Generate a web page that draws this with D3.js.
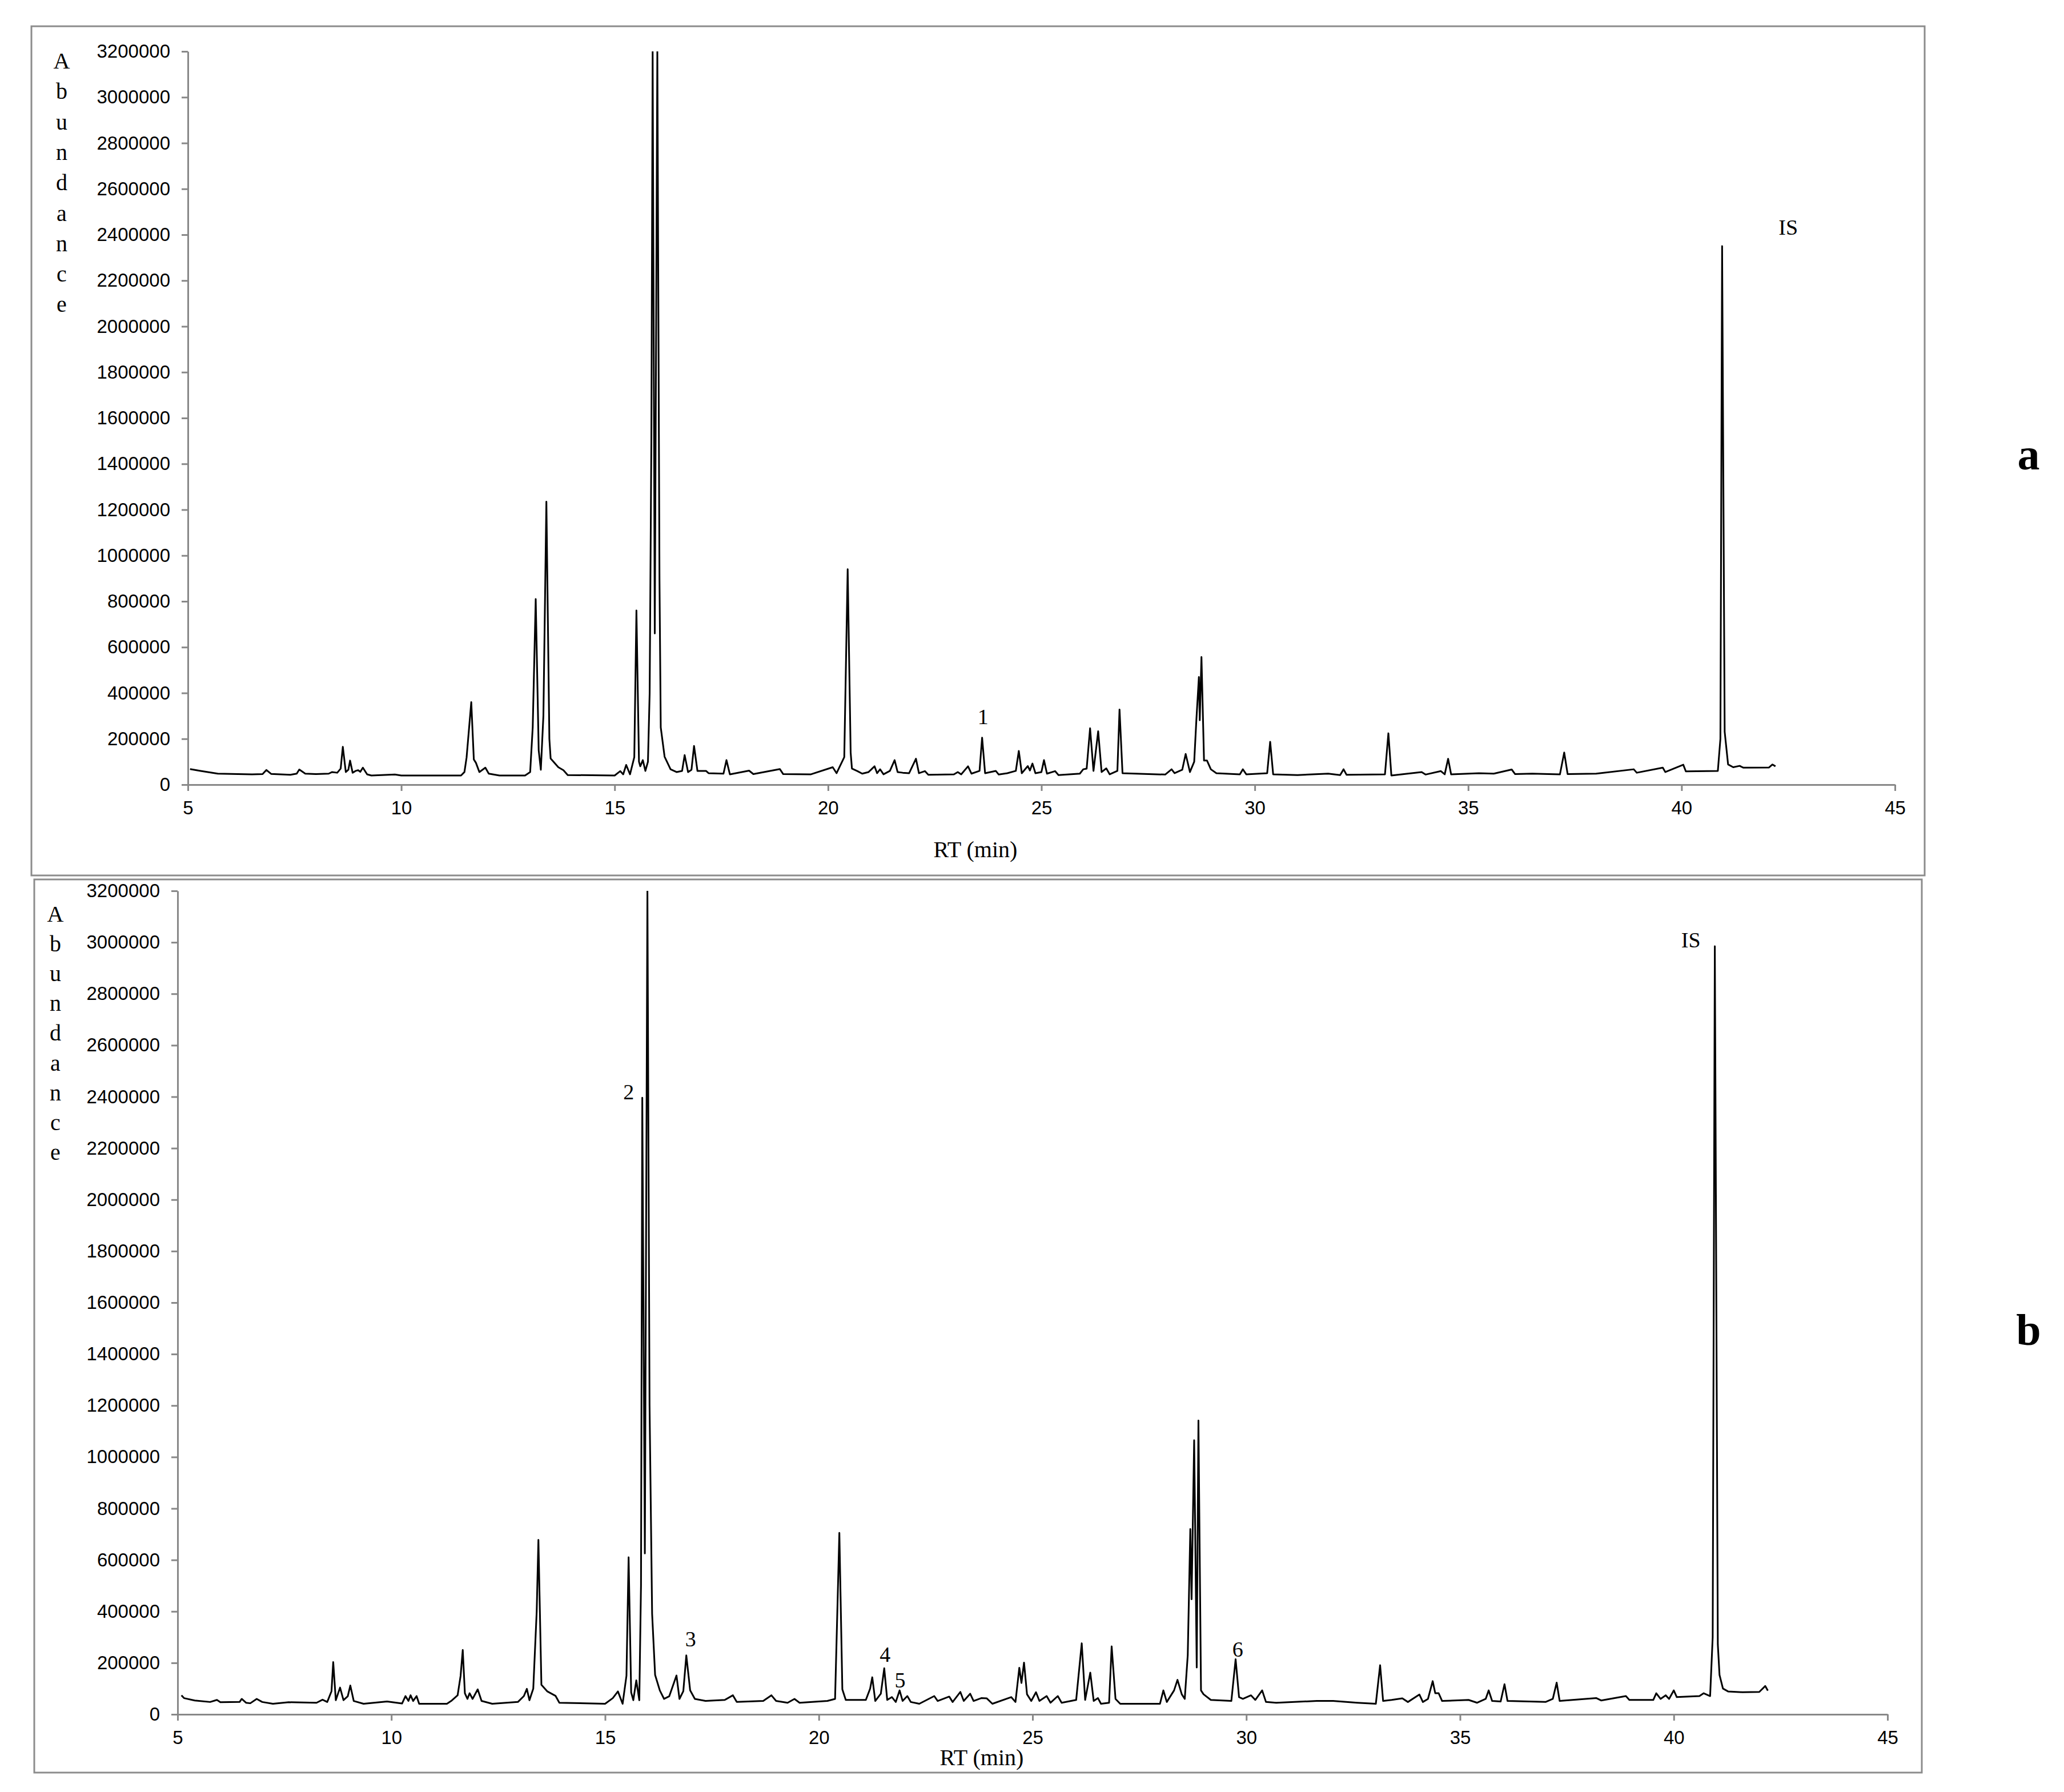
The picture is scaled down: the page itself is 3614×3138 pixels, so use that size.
<!DOCTYPE html>
<meta charset="utf-8">
<style>
body { margin: 0; background: #fff; }
.frame { fill: none; stroke: #8c8c8c; stroke-width: 3px; }
.axis path, .axis line { stroke: #888; stroke-width: 3px; }
.axis text { font-family: "Liberation Sans", Arial, sans-serif; font-size: 33px; fill: #000; }
.trace { fill: none; stroke: #000; stroke-width: 3px; stroke-linejoin: round; }
.title { font-family: "Liberation Serif", "Times New Roman", serif; font-size: 40px; fill: #000; }
.note { font-family: "Liberation Serif", "Times New Roman", serif; font-size: 38px; fill: #000; }
.panel { font-family: "Liberation Serif", "Times New Roman", serif; font-size: 78px; font-weight: bold; fill: #000; }
</style>
<svg></svg>
<script src="https://d3js.org/d3.v7.min.js"></script>
<script>

var width = 3614,
    height = 3138;

var rtTicks = [5, 10, 15, 20, 25, 30, 35, 40, 45];
var abundanceTicks = d3.range(0, 3200001, 200000);
var letters = "Abundance".split("");

var traceA = [
  [5.05, 68000], [5.3, 60000], [5.7, 48000], [6.5, 45000], [6.75, 46000], [6.84, 64000],
  [6.95, 47000], [7.4, 43000], [7.55, 48000], [7.61, 66000], [7.75, 48000], [8.0, 46000],
  [8.3, 48000], [8.38, 55000], [8.5, 52000], [8.58, 70000], [8.63, 165000], [8.7, 55000],
  [8.76, 65000], [8.8, 105000], [8.86, 52000], [8.93, 60000], [8.99, 63000], [9.04, 56000],
  [9.1, 74000], [9.2, 45000], [9.3, 40000], [9.85, 44000], [10.0, 40000], [11.4, 40000],
  [11.48, 55000], [11.53, 118000], [11.64, 360000], [11.7, 110000], [11.75, 95000],
  [11.83, 55000], [11.97, 74000], [12.05, 48000], [12.3, 40000], [12.9, 40000],
  [13.02, 55000], [13.08, 250000], [13.15, 810000], [13.22, 150000], [13.27, 65000],
  [13.33, 300000], [13.4, 1235000], [13.47, 200000], [13.5, 114000], [13.68, 76000],
  [13.8, 63000], [13.9, 42000], [15.0, 40000], [15.13, 59000], [15.2, 45000], [15.27, 86000],
  [15.36, 45000], [15.46, 120000], [15.51, 760000], [15.57, 100000], [15.6, 80000],
  [15.66, 107000], [15.72, 60000], [15.78, 100000], [15.82, 400000], [15.86, 1500000],
  [15.89, 3200000], [15.94, 660000], [16.0, 3200000], [16.05, 900000], [16.08, 250000],
  [16.17, 122000], [16.31, 67000], [16.45, 55000], [16.58, 60000], [16.64, 129000],
  [16.72, 55000], [16.8, 65000], [16.86, 169000], [16.94, 60000], [17.14, 60000],
  [17.2, 50000], [17.55, 48000], [17.62, 107000], [17.7, 45000], [18.15, 61000],
  [18.25, 46000], [18.87, 68000], [18.95, 46000], [19.6, 45000], [20.11, 76000],
  [20.2, 50000], [20.38, 120000], [20.46, 940000], [20.53, 140000], [20.56, 70000],
  [20.69, 59000], [20.8, 48000], [20.95, 55000], [21.09, 80000], [21.15, 50000],
  [21.22, 67000], [21.3, 45000], [21.45, 60000], [21.56, 107000], [21.63, 55000],
  [21.75, 52000], [21.9, 50000], [22.06, 113000], [22.13, 50000], [22.27, 59000],
  [22.35, 43000], [22.95, 45000], [23.04, 55000], [23.12, 45000], [23.28, 80000],
  [23.36, 48000], [23.55, 60000], [23.61, 205000], [23.68, 50000], [23.93, 60000],
  [24.0, 44000], [24.2, 50000], [24.4, 60000], [24.47, 147000], [24.54, 50000],
  [24.68, 81000], [24.73, 62000], [24.79, 92000], [24.86, 50000], [25.0, 55000],
  [25.06, 107000], [25.13, 48000], [25.32, 59000], [25.4, 42000], [25.9, 48000],
  [25.98, 67000], [26.06, 70000], [26.14, 246000], [26.22, 60000], [26.33, 233000],
  [26.41, 55000], [26.52, 71000], [26.6, 45000], [26.78, 60000], [26.83, 328000],
  [26.9, 50000], [27.9, 44000], [28.05, 67000], [28.12, 50000], [28.3, 65000],
  [28.38, 134000], [28.48, 55000], [28.58, 100000], [28.63, 280000], [28.69, 470000],
  [28.71, 281000], [28.75, 557000], [28.81, 105000], [28.88, 105000], [28.97, 67000],
  [29.1, 50000], [29.65, 45000], [29.72, 67000], [29.8, 45000], [30.29, 50000],
  [30.36, 187000], [30.43, 45000], [31.0, 42000], [31.72, 48000], [32.0, 42000],
  [32.08, 67000], [32.15, 43000], [33.05, 45000], [33.13, 224000], [33.2, 40000],
  [33.91, 55000], [34.0, 44000], [34.36, 59000], [34.45, 45000], [34.53, 113000],
  [34.6, 45000], [35.25, 50000], [35.6, 48000], [36.02, 66000], [36.1, 46000],
  [36.5, 48000], [37.15, 45000], [37.25, 140000], [37.33, 46000], [38.0, 48000],
  [38.88, 67000], [38.95, 52000], [39.56, 74000], [39.62, 55000], [40.04, 87000],
  [40.1, 58000], [40.85, 60000], [40.91, 200000], [40.95, 2350000], [41.01, 231000],
  [41.09, 88000], [41.21, 76000], [41.36, 82000], [41.45, 74000], [42.05, 75000],
  [42.13, 88000], [42.2, 80000]
];

var traceB = [
  [5.09, 74000], [5.15, 63000], [5.4, 54000], [5.76, 48000], [5.92, 56000], [6.0, 47000],
  [6.45, 48000], [6.5, 60000], [6.6, 45000], [6.7, 43000], [6.85, 60000], [6.98, 48000],
  [7.23, 41000], [7.6, 47000], [8.25, 45000], [8.39, 57000], [8.5, 48000], [8.6, 90000],
  [8.64, 203000], [8.7, 55000], [8.8, 104000], [8.88, 55000], [8.98, 70000], [9.04, 112000],
  [9.12, 52000], [9.35, 41000], [9.9, 50000], [10.25, 42000], [10.33, 71000], [10.4, 52000],
  [10.45, 74000], [10.51, 52000], [10.59, 71000], [10.65, 41000], [11.3, 41000],
  [11.4, 52000], [11.55, 74000], [11.62, 150000], [11.67, 250000], [11.72, 82000],
  [11.78, 60000], [11.83, 82000], [11.9, 60000], [12.02, 97000], [12.11, 52000],
  [12.36, 41000], [12.96, 48000], [13.1, 71000], [13.17, 99000], [13.23, 55000],
  [13.32, 100000], [13.4, 400000], [13.44, 678000], [13.51, 115000], [13.65, 89000],
  [13.84, 72000], [13.93, 45000], [15.0, 41000], [15.18, 63000], [15.3, 89000],
  [15.41, 41000], [15.5, 150000], [15.55, 610000], [15.61, 85000], [15.66, 55000],
  [15.73, 132000], [15.8, 55000], [15.84, 500000], [15.87, 2396000], [15.93, 625000],
  [15.99, 3200000], [16.04, 1200000], [16.1, 391000], [16.17, 153000], [16.28, 93000],
  [16.38, 60000], [16.5, 70000], [16.67, 151000], [16.74, 60000], [16.83, 90000],
  [16.9, 229000], [16.99, 93000], [17.1, 60000], [17.35, 52000], [17.8, 56000],
  [17.99, 74000], [18.08, 48000], [18.7, 52000], [18.89, 74000], [19.0, 52000],
  [19.27, 45000], [19.43, 60000], [19.55, 45000], [20.2, 52000], [20.38, 60000],
  [20.48, 705000], [20.55, 97000], [20.63, 56000], [21.1, 56000], [21.2, 100000],
  [21.25, 144000], [21.32, 52000], [21.45, 80000], [21.53, 179000], [21.6, 56000],
  [21.71, 67000], [21.8, 48000], [21.89, 93000], [21.96, 52000], [22.07, 71000],
  [22.15, 48000], [22.35, 41000], [22.7, 71000], [22.78, 52000], [23.05, 69000],
  [23.13, 48000], [23.31, 87000], [23.39, 52000], [23.54, 80000], [23.62, 52000],
  [23.8, 63000], [23.93, 62000], [24.06, 41000], [24.5, 67000], [24.6, 48000],
  [24.69, 181000], [24.74, 122000], [24.8, 201000], [24.87, 78000], [24.97, 52000],
  [25.08, 86000], [25.16, 52000], [25.33, 71000], [25.42, 45000], [25.59, 71000],
  [25.68, 45000], [26.02, 56000], [26.15, 276000], [26.23, 56000], [26.35, 162000],
  [26.43, 52000], [26.53, 63000], [26.6, 41000], [26.79, 45000], [26.85, 264000],
  [26.94, 60000], [27.05, 41000], [27.98, 41000], [28.06, 93000], [28.14, 48000],
  [28.31, 93000], [28.39, 134000], [28.49, 78000], [28.56, 60000], [28.63, 230000],
  [28.69, 720000], [28.72, 447000], [28.78, 1065000], [28.84, 182000], [28.88, 1142000],
  [28.94, 93000], [29.0, 78000], [29.17, 56000], [29.65, 52000], [29.75, 214000],
  [29.83, 67000], [29.92, 60000], [30.11, 74000], [30.21, 56000], [30.37, 93000],
  [30.46, 48000], [30.7, 45000], [31.65, 52000], [32.03, 52000], [32.6, 45000],
  [33.03, 41000], [33.13, 191000], [33.2, 52000], [33.4, 56000], [33.65, 62000],
  [33.78, 48000], [34.05, 77000], [34.13, 48000], [34.25, 60000], [34.36, 129000],
  [34.42, 82000], [34.5, 82000], [34.58, 52000], [35.2, 56000], [35.4, 45000],
  [35.6, 60000], [35.67, 93000], [35.75, 52000], [35.95, 50000], [36.04, 117000],
  [36.11, 52000], [37.0, 48000], [37.17, 60000], [37.26, 123000], [37.33, 52000],
  [38.19, 63000], [38.3, 54000], [38.88, 71000], [38.96, 56000], [39.52, 56000],
  [39.59, 82000], [39.69, 60000], [39.81, 74000], [39.89, 60000], [40.0, 93000],
  [40.07, 67000], [40.6, 71000], [40.7, 82000], [40.85, 71000], [40.91, 300000],
  [40.96, 2985000], [41.03, 272000], [41.07, 153000], [41.15, 100000], [41.27, 89000],
  [41.6, 86000], [42.0, 87000], [42.14, 110000], [42.2, 92000]
];

// peak labels: [text, RT, abundance at the text baseline]
var notesA = [["IS", 42.5, 2400000], ["1", 23.63, 263000]];
var notesB = [["IS", 40.4, 2980000], ["2", 15.55, 2390000], ["3", 17.0, 265000],
              ["4", 21.55, 205000], ["5", 21.9, 105000], ["6", 29.8, 225000]];

var svg = d3.select("svg")
    .attr("width", width)
    .attr("height", height);

svg.append("rect")
    .attr("width", width)
    .attr("height", height)
    .attr("fill", "#fff");

var panels = [
  { id: "a", trace: traceA, notes: notesA,
    box: [55, 46, 3370, 1533], x: [329, 3318], y: [1374, 90],
    letterX: 108, letterY: 106, letterStep: 53.3,
    titleX: 1708, titleY: 1487, labelX: 3552, labelY: 795 },
  { id: "b", trace: traceB, notes: notesB,
    box: [60, 1540, 3365, 3104], x: [311, 3305], y: [3002, 1560],
    letterX: 97, letterY: 1600, letterStep: 52.1,
    titleX: 1719, titleY: 3077, labelX: 3552, labelY: 2328 }
];

panels.forEach(drawPanel);

function drawPanel(p) {
  var g = svg.append("g");

  g.append("rect")
      .attr("class", "frame")
      .attr("x", p.box[0])
      .attr("y", p.box[1])
      .attr("width", p.box[2] - p.box[0])
      .attr("height", p.box[3] - p.box[1]);

  var x = d3.scaleLinear().domain([5, 45]).range(p.x);
  var y = d3.scaleLinear().domain([0, 3200000]).range(p.y);

  g.append("g")
      .attr("class", "axis")
      .attr("transform", "translate(" + p.x[0] + ",0)")
      .call(d3.axisLeft(y)
          .tickValues(abundanceTicks)
          .tickFormat(d3.format("d"))
          .tickSize(11)
          .tickSizeOuter(0)
          .tickPadding(20));

  g.append("g")
      .attr("class", "axis")
      .attr("transform", "translate(0," + p.y[0] + ")")
      .call(d3.axisBottom(x)
          .tickValues(rtTicks)
          .tickSize(11)
          .tickSizeOuter(0)
          .tickPadding(18));

  var clipId = "clip-" + p.id;
  g.append("clipPath")
      .attr("id", clipId)
    .append("rect")
      .attr("x", p.x[0])
      .attr("y", p.y[1])
      .attr("width", p.x[1] - p.x[0])
      .attr("height", p.y[0] - p.y[1]);

  var line = d3.line()
      .x(function(d) { return x(d[0]); })
      .y(function(d) { return y(d[1]); });

  g.append("path")
      .attr("class", "trace")
      .attr("clip-path", "url(#" + clipId + ")")
      .datum(p.trace)
      .attr("d", line);

  // stacked letters of the y title
  g.selectAll(".letter")
      .data(letters)
    .enter().append("text")
      .attr("class", "title")
      .attr("x", p.letterX)
      .attr("y", function(d, i) { return p.letterY + i * p.letterStep; })
      .attr("dy", "0.35em")
      .attr("text-anchor", "middle")
      .text(function(d) { return d; });

  g.append("text")
      .attr("class", "title")
      .attr("x", p.titleX)
      .attr("y", p.titleY)
      .attr("dy", "0.35em")
      .attr("text-anchor", "middle")
      .text("RT (min)");

  g.selectAll(".note")
      .data(p.notes)
    .enter().append("text")
      .attr("class", "note")
      .attr("x", function(d) { return x(d[1]); })
      .attr("y", function(d) { return y(d[2]); })
      .attr("text-anchor", "middle")
      .text(function(d) { return d[0]; });

  g.append("text")
      .attr("class", "panel")
      .attr("x", p.labelX)
      .attr("y", p.labelY)
      .attr("dy", "0.35em")
      .attr("text-anchor", "middle")
      .text(p.id);
}

</script>
